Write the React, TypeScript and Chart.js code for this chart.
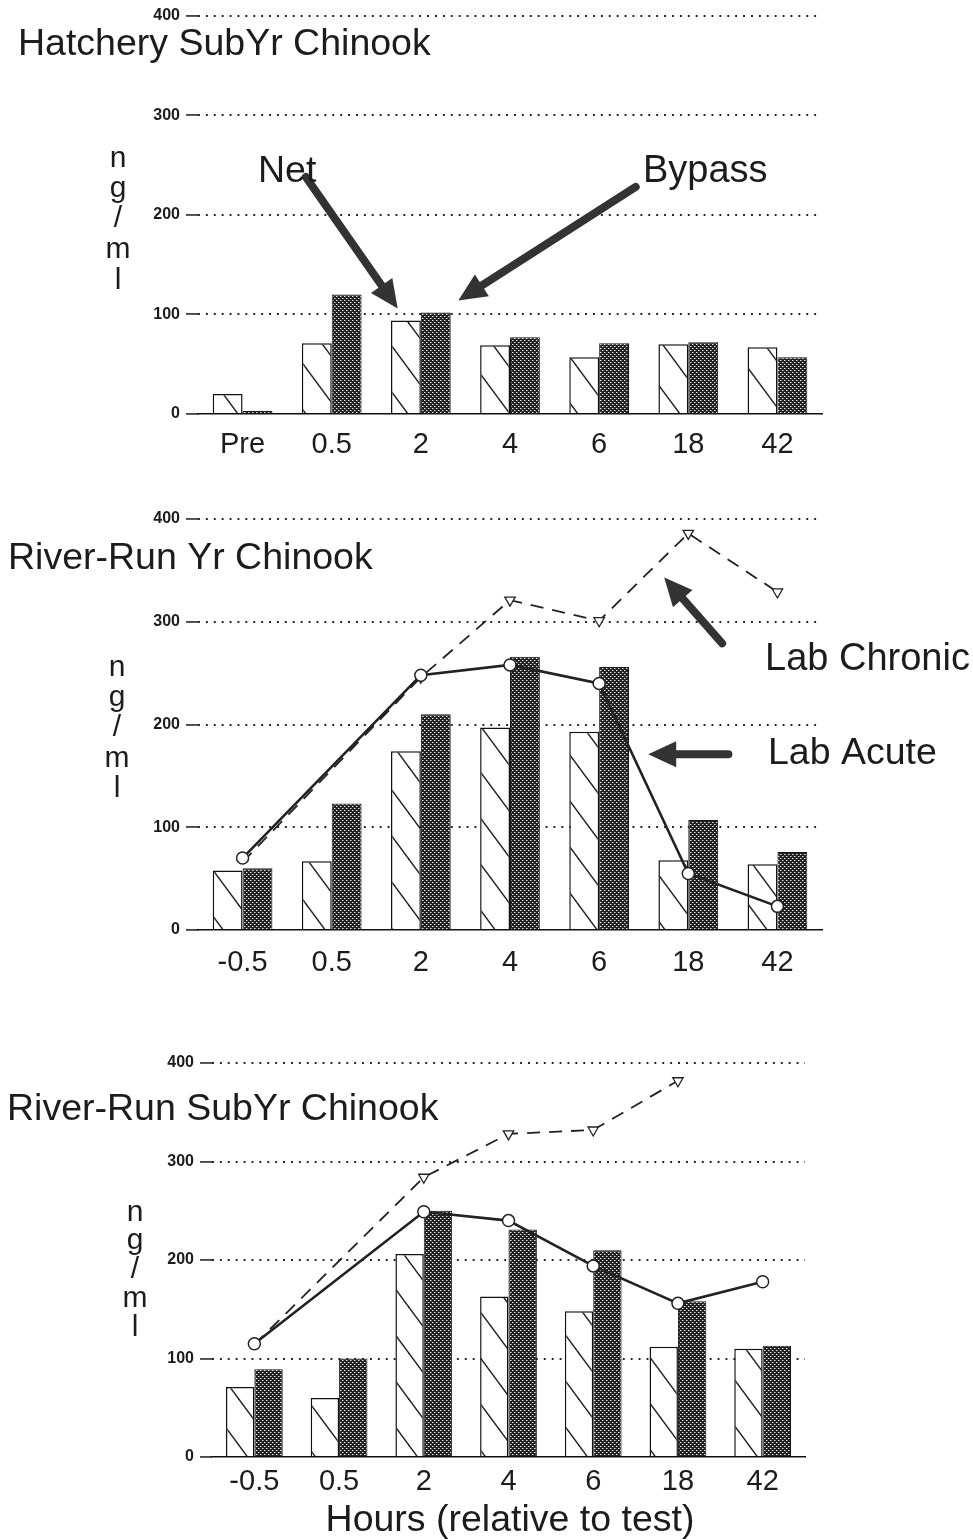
import React, { useEffect, useRef } from 'react';
import { Chart, registerables } from 'chart.js';

Chart.register(...registerables);

// ---------- data ----------
const hatcheryHours = ['Pre', '0.5', '2', '4', '6', '18', '42'];
const riverHours = ['-0.5', '0.5', '2', '4', '6', '18', '42'];
const yTickValues = [0, 100, 200, 300, 400];

const hatcheryNet = [20, 71, 94, 69, 57, 70, 67];
const hatcheryBypass = [3, 120, 102, 77, 71, 72, 57];

const yrNet = [58, 67, 174, 197, 193, 68, 64];
const yrBypass = [60, 123, 210, 266, 256, 107, 76];
const yrLabAcute = [70, null, 248, 258, 240, 55, 23];
const yrLabChronic = [66, null, 246, 321, 301, 386, 329];

const subNet = [71, 60, 206, 163, 148, 112, 110];
const subBypass = [89, 100, 250, 231, 210, 158, 113];
const subLabAcute = [115, null, 249, 240, 194, 156, 178];
const subLabChronic = [114, null, 284, 328, 332, 382, null];

const yLabelLetters = ['n', 'g', '/', 'm', 'l'];

// ---------- styling helpers ----------
const FONT = '"Liberation Sans", Arial, Helvetica, sans-serif';
const INK = '#1c1c1c';

function makeHatch(): CanvasPattern | string {
  const w = 34, h = 46;
  const c = document.createElement('canvas');
  c.width = w; c.height = h;
  const g = c.getContext('2d');
  if (!g) return '#fff';
  g.fillStyle = '#ffffff';
  g.fillRect(0, 0, w, h);
  g.strokeStyle = '#222';
  g.lineWidth = 1.4;
  for (const dx of [-w, 0, w]) {
    g.beginPath();
    g.moveTo(dx - 4, -4 * h / w);
    g.lineTo(dx + w + 4, h + 4 * h / w);
    g.stroke();
  }
  return g.createPattern(c, 'repeat') || '#fff';
}

function makeDots(): CanvasPattern | string {
  const c = document.createElement('canvas');
  c.width = 4; c.height = 4;
  const g = c.getContext('2d');
  if (!g) return '#444';
  g.fillStyle = '#222';
  g.fillRect(0, 0, 4, 4);
  g.fillStyle = '#e6e6e6';
  g.fillRect(0, 0, 1, 1);
  g.fillRect(2, 2, 1, 1);
  g.fillStyle = '#808080';
  g.fillRect(1, 0, 1, 1);
  g.fillRect(3, 2, 1, 1);
  return g.createPattern(c, 'repeat') || '#444';
}

type TextItem = { text: string; x: number; y: number; size: number; align?: CanvasTextAlign; weight?: string };
type ArrowItem = { from: [number, number]; to: [number, number] };

const overlayPlugin = {
  id: 'overlay',
  afterDatasetsDraw(chart: any, _args: any, opts: any) {
    const ctx: CanvasRenderingContext2D = chart.ctx;
    const xs = chart.scales.x;
    const ys = chart.scales.y;
    ctx.save();
    for (const a of (opts.arrows || []) as ArrowItem[]) {
      const x1 = xs.getPixelForValue(a.from[0]);
      const y1 = ys.getPixelForValue(a.from[1]);
      const x2 = xs.getPixelForValue(a.to[0]);
      const y2 = ys.getPixelForValue(a.to[1]);
      const ang = Math.atan2(y2 - y1, x2 - x1);
      const headLen = 28, headHalf = 13;
      const bx = x2 - Math.cos(ang) * headLen;
      const by = y2 - Math.sin(ang) * headLen;
      ctx.strokeStyle = '#333';
      ctx.fillStyle = '#333';
      ctx.lineWidth = 8;
      ctx.lineCap = 'round';
      ctx.beginPath();
      ctx.moveTo(x1, y1);
      ctx.lineTo(bx + Math.cos(ang) * 4, by + Math.sin(ang) * 4);
      ctx.stroke();
      ctx.beginPath();
      ctx.moveTo(x2, y2);
      ctx.lineTo(bx + Math.cos(ang + Math.PI / 2) * headHalf, by + Math.sin(ang + Math.PI / 2) * headHalf);
      ctx.lineTo(bx + Math.cos(ang - Math.PI / 2) * headHalf, by + Math.sin(ang - Math.PI / 2) * headHalf);
      ctx.closePath();
      ctx.fill();
    }
    ctx.fillStyle = INK;
    ctx.textBaseline = 'alphabetic';
    for (const t of (opts.texts || []) as TextItem[]) {
      ctx.font = `${t.weight || 'normal'} ${t.size}px ${FONT}`;
      ctx.textAlign = t.align || 'left';
      ctx.fillText(t.text, t.x, t.y);
    }
    ctx.restore();
  },
};

type PanelCfg = {
  top: number;
  height: number;
  chartTop: number;
  chartBottom: number;
  chartLeft: number;
  chartRight: number;
  tickPad: number;
  labels: string[];
  net: number[];
  bypass: number[];
  acute?: (number | null)[];
  chronic?: (number | null)[];
  texts: TextItem[];
  arrows: ArrowItem[];
  yLabelX: number;
  yLabelBaselines: number[];
};

function buildConfig(p: PanelCfg): any {
  const hatch = makeHatch();
  const dots = makeDots();
  const datasets: any[] = [
    {
      type: 'bar',
      label: 'Net',
      data: p.net,
      backgroundColor: hatch,
      borderColor: '#111',
      borderWidth: 1.5,
      barPercentage: 1,
      categoryPercentage: 0.67,
      order: 3,
    },
    {
      type: 'bar',
      label: 'Bypass',
      data: p.bypass,
      backgroundColor: dots,
      borderColor: '#1a1a1a',
      borderWidth: 1,
      barPercentage: 1,
      categoryPercentage: 0.67,
      order: 3,
    },
  ];
  if (p.chronic) {
    datasets.push({
      type: 'line',
      label: 'Lab Chronic',
      data: p.chronic,
      borderColor: '#222',
      borderWidth: 1.8,
      borderDash: [13, 9],
      spanGaps: true,
      tension: 0,
      pointStyle: 'triangle',
      rotation: 180,
      pointRadius: p.chronic.map((_, i) => (i === 0 ? 0 : 6)),
      pointBorderWidth: 1.3,
      pointBorderColor: '#222',
      pointBackgroundColor: '#fff',
      order: 2,
    });
  }
  if (p.acute) {
    datasets.push({
      type: 'line',
      label: 'Lab Acute',
      data: p.acute,
      borderColor: '#222',
      borderWidth: 2.6,
      spanGaps: true,
      tension: 0,
      pointStyle: 'circle',
      pointRadius: 6,
      pointBorderWidth: 1.5,
      pointBorderColor: '#222',
      pointBackgroundColor: '#fff',
      order: 1,
    });
  }
  const localTexts = p.texts.map((t) => ({ ...t, y: t.y - p.top }));
  p.yLabelBaselines.forEach((b, i) => {
    localTexts.push({ text: yLabelLetters[i], x: p.yLabelX, y: b - p.top, size: 30, align: 'center' });
  });
  const chartTopLocal = p.chartTop - p.top;
  const chartBottomLocal = p.chartBottom - p.top;
  return {
    type: 'bar',
    data: { labels: p.labels, datasets },
    plugins: [overlayPlugin],
    options: {
      responsive: false,
      animation: false,
      events: [],
      layout: { padding: { top: chartTopLocal, left: 0, right: 973 - p.chartRight, bottom: 0 } },
      plugins: {
        legend: { display: false },
        tooltip: { enabled: false },
        title: { display: false },
        overlay: { texts: localTexts, arrows: p.arrows },
      },
      scales: {
        x: {
          type: 'category',
          offset: true,
          grid: { display: false, drawTicks: false },
          border: { display: true, color: '#111', width: 1.6 },
          ticks: {
            color: INK,
            padding: p.tickPad,
            font: { family: FONT, size: 29 },
            maxRotation: 0,
            autoSkip: false,
          },
          afterFit: (scale: any) => {
            scale.height = p.height - chartBottomLocal;
          },
        },
        y: {
          min: 0,
          max: 400,
          afterBuildTicks: (scale: any) => {
            scale.ticks = yTickValues.map((v) => ({ value: v }));
          },
          grid: {
            color: (c: any) => (c.tick && c.tick.value === 0 ? 'rgba(0,0,0,0)' : '#222'),
            lineWidth: 1.9,
            tickColor: '#1a1a1a',
            tickBorderDash: [],
            tickWidth: 1.5,
            tickLength: 12,
            drawTicks: true,
          },
          border: { display: false, dash: [1.9, 6] },
          ticks: {
            color: INK,
            padding: 6,
            font: { family: FONT, size: 16, weight: 'bold' },
          },
          afterFit: (scale: any) => {
            scale.width = p.chartLeft;
          },
        },
      },
    },
  };
}

const panels: PanelCfg[] = [
  {
    top: 0,
    height: 485,
    chartTop: 14,
    chartBottom: 414,
    chartLeft: 198,
    chartRight: 822,
    tickPad: 14,
    labels: hatcheryHours,
    net: hatcheryNet,
    bypass: hatcheryBypass,
    texts: [
      { text: 'Hatchery SubYr Chinook', x: 18, y: 55, size: 37.5 },
      { text: 'Net', x: 258, y: 182, size: 37.5 },
      { text: 'Bypass', x: 643, y: 182, size: 38 },
    ],
    arrows: [
      { from: [0.71, 238], to: [1.74, 106] },
      { from: [4.41, 228], to: [2.42, 114] },
    ],
    yLabelX: 118,
    yLabelBaselines: [167, 197, 227, 258, 289],
  },
  {
    top: 490,
    height: 510,
    chartTop: 519,
    chartBottom: 930,
    chartLeft: 198,
    chartRight: 822,
    tickPad: 16,
    labels: riverHours,
    net: yrNet,
    bypass: yrBypass,
    acute: yrLabAcute,
    chronic: yrLabChronic,
    texts: [
      { text: 'River-Run Yr Chinook', x: 8, y: 569, size: 37.5 },
      { text: 'Lab Chronic', x: 765, y: 670, size: 38 },
      { text: 'Lab Acute', x: 768, y: 764, size: 37.5 },
    ],
    arrows: [
      { from: [5.38, 279], to: [4.73, 343] },
      { from: [5.45, 171], to: [4.55, 171] },
    ],
    yLabelX: 117,
    yLabelBaselines: [676, 706, 736, 767, 797],
  },
  {
    top: 1030,
    height: 510,
    chartTop: 1063,
    chartBottom: 1457,
    chartLeft: 212,
    chartRight: 805,
    tickPad: 8,
    labels: riverHours,
    net: subNet,
    bypass: subBypass,
    acute: subLabAcute,
    chronic: subLabChronic,
    texts: [
      { text: 'River-Run SubYr Chinook', x: 7, y: 1120, size: 37.5 },
      { text: 'Hours (relative to test)', x: 510, y: 1531, size: 37.5, align: 'center' },
    ],
    arrows: [],
    yLabelX: 135,
    yLabelBaselines: [1221, 1249, 1278, 1307, 1336],
  },
];

function Panel({ cfg }: { cfg: PanelCfg }) {
  const ref = useRef<HTMLCanvasElement>(null);
  useEffect(() => {
    if (!ref.current) return;
    const chart = new Chart(ref.current, buildConfig(cfg));
    return () => chart.destroy();
  }, [cfg]);
  return (
    <div style={{ position: 'absolute', left: 0, top: cfg.top, width: 973, height: cfg.height }}>
      <canvas ref={ref} width={973} height={cfg.height} style={{ display: 'block', width: 973, height: cfg.height }} />
    </div>
  );
}

export default function App() {
  return (
    <div style={{ position: 'absolute', left: 0, top: 0, width: 973, height: 1540, background: '#fff', overflow: 'hidden' }}>
      {panels.map((p, i) => (
        <Panel key={i} cfg={p} />
      ))}
    </div>
  );
}
